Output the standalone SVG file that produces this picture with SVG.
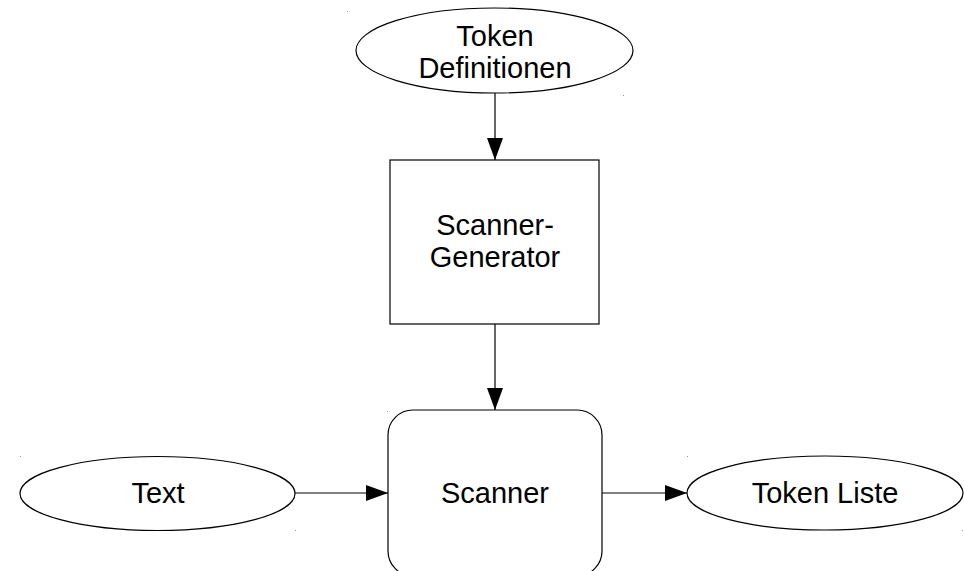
<svg xmlns="http://www.w3.org/2000/svg" width="964" height="571" viewBox="0 0 964 571">
<defs>
<style>
.shape{fill:#fff;stroke:#000;stroke-width:1.2}
.lbl{font-family:"Liberation Sans",Arial,sans-serif;font-size:29px;fill:#000;text-anchor:middle}
.conn{stroke:#000;stroke-width:1.2;fill:none}
.dot{fill:#999}
</style>
<marker id="arr" markerWidth="22" markerHeight="16" refX="22" refY="8" orient="auto" markerUnits="userSpaceOnUse">
<path d="M0,0 L22,8 L0,16 Z" fill="#000"/>
</marker>
</defs>
<rect width="964" height="571" fill="#fff"/>
<g id="connectors">
<line class="conn" x1="495" y1="93" x2="495" y2="160" marker-end="url(#arr)"/>
<line class="conn" x1="495" y1="324" x2="495" y2="410" marker-end="url(#arr)"/>
<line class="conn" x1="295" y1="493" x2="388" y2="493" marker-end="url(#arr)"/>
<line class="conn" x1="602" y1="493" x2="687" y2="493" marker-end="url(#arr)"/>
</g>
<g id="token-definitionen">
<ellipse class="shape" cx="494.5" cy="50.5" rx="138.5" ry="42.5"/>
<text class="lbl" x="495" y="46">Token</text>
<text class="lbl" x="495" y="78">Definitionen</text>
</g>
<g id="scanner-generator">
<rect class="shape" x="390" y="160" width="209" height="164"/>
<text class="lbl" x="495" y="235">Scanner-</text>
<text class="lbl" x="495" y="267">Generator</text>
</g>
<g id="scanner">
<rect class="shape" x="388" y="410" width="214" height="166" rx="25" ry="25"/>
<text class="lbl" x="495" y="503">Scanner</text>
</g>
<g id="text">
<ellipse class="shape" cx="157.5" cy="493.5" rx="137.5" ry="37"/>
<text class="lbl" x="158" y="503">Text</text>
</g>
<g id="token-liste">
<ellipse class="shape" cx="825" cy="493" rx="138" ry="37"/>
<text class="lbl" x="825" y="503">Token Liste</text>
</g>
<g id="marks">
<rect class="dot" x="347" y="11" width="1" height="1"/>
<rect class="dot" x="623" y="95" width="1" height="1"/>
<rect class="dot" x="387" y="411" width="1" height="1"/>
<rect class="dot" x="20" y="456" width="1" height="1"/>
<rect class="dot" x="295" y="530" width="1" height="1"/>
<rect class="dot" x="687" y="456" width="1" height="1"/>
<rect class="dot" x="962" y="530" width="1" height="1"/>
</g>
</svg>
